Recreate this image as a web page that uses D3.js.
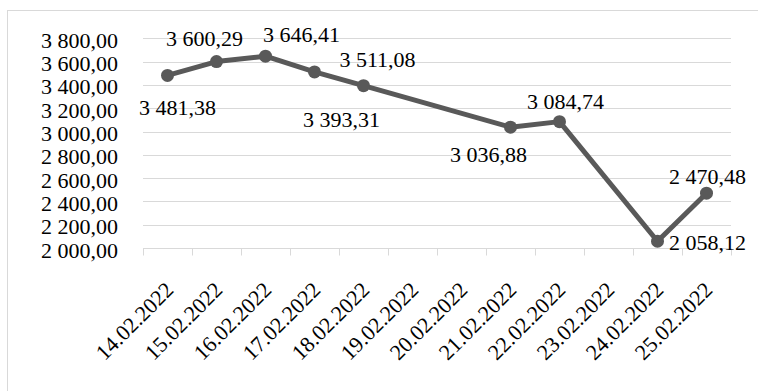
<!DOCTYPE html>
<html>
<head>
<meta charset="utf-8">
<script src="https://cdn.jsdelivr.net/npm/d3@7"></script>
<style>
  html, body { margin: 0; padding: 0; background: #fff; }
  svg { display: block; }
</style>
</head>
<body>
<svg id="chart" width="758" height="391"></svg>
<script>
// Trading dates (category axis)
const dates = ["14.02.2022", "15.02.2022", "16.02.2022", "17.02.2022", "18.02.2022", "19.02.2022",
               "20.02.2022", "21.02.2022", "22.02.2022", "23.02.2022", "24.02.2022", "25.02.2022"];
// Closing values; null = no trading that day
const values = [3481.38, 3600.29, 3646.41, 3511.08, 3393.31, null,
                null, 3036.88, 3084.74, null, 2058.12, 2470.48];
// Value axis ticks
const yTicks = [2000, 2200, 2400, 2600, 2800, 3000, 3200, 3400, 3600, 3800];

// Data label placement relative to each point (dx, dy)
const labelOffsets = [[10, 32], [-12, -23], [36, -22], [63, -12], [-22, 34], null,
                      null, [-22, 27], [6, -20], null, [50, 1], [1, -17]];

const svg = d3.select("#chart");
const plot = { left: 143, right: 731, top: 38.3, bottom: 248 };
const serif = '"Liberation Serif"';
const fontSize = "22px";

const ru = d3.formatLocale({ decimal: ",", thousands: " ", grouping: [3] });
const fmt = ru.format(",.2f");

const x = d3.scaleBand().domain(dates).range([plot.left, plot.right]).padding(0);
const y = d3.scaleLinear().domain([2000, 3800]).range([plot.bottom, plot.top]);
const cx = d => x(d) + x.bandwidth() / 2;

// Chart frame
svg.append("rect")
  .attr("x", 7.5).attr("y", 10.5).attr("width", 800).attr("height", 500)
  .attr("fill", "none").attr("stroke", "#d9d9d9").attr("stroke-width", 1);

// Gridlines
svg.append("g").selectAll("line").data(yTicks.filter(t => t !== 2000)).join("line")
  .attr("x1", plot.left).attr("x2", plot.right)
  .attr("y1", d => Math.round(y(d)) + 0.5).attr("y2", d => Math.round(y(d)) + 0.5)
  .attr("stroke", "#d9d9d9").attr("stroke-width", 1);

// Value axis labels
svg.append("g").selectAll("text").data(yTicks).join("text")
  .attr("x", 118).attr("y", d => y(d) + 2)
  .attr("text-anchor", "end").attr("dominant-baseline", "central")
  .style("font-family", serif).style("font-size", fontSize).attr("fill", "#000")
  .text(d => fmt(d));

// Category axis line with tick marks between categories
const xAxis = d3.axisBottom(x).tickSize(0).tickFormat("");
const gx = svg.append("g").attr("transform", `translate(0,${Math.round(plot.bottom) + 0.5})`).call(xAxis);
gx.select(".domain").attr("stroke", "#d9d9d9").attr("d", `M${plot.left},0H${plot.right}`);
gx.selectAll(".tick").remove();
gx.selectAll("line.sep").data(d3.range(dates.length + 1)).join("line")
  .attr("class", "sep")
  .attr("x1", i => Math.round(plot.left + i * x.step()) + 0.5)
  .attr("x2", i => Math.round(plot.left + i * x.step()) + 0.5)
  .attr("y1", 0).attr("y2", 7)
  .attr("stroke", "#d9d9d9");

// Rotated category labels
svg.append("g").selectAll("text").data(dates).join("text")
  .attr("transform", d => `translate(${cx(d) + 2},${286}) rotate(-45)`)
  .attr("text-anchor", "end").attr("dominant-baseline", "central")
  .style("font-family", serif).style("font-size", fontSize).attr("fill", "#000")
  .text(d => d);

// Series line (gaps bridged between trading days)
const pts = dates.map((d, i) => ({ d, v: values[i], off: labelOffsets[i] })).filter(p => p.v !== null);
const line = d3.line().x(p => cx(p.d)).y(p => y(p.v));
svg.append("path").datum(pts)
  .attr("d", line)
  .attr("fill", "none").attr("stroke", "#595959").attr("stroke-width", 5)
  .attr("stroke-linejoin", "round");

svg.append("g").selectAll("circle").data(pts).join("circle")
  .attr("cx", p => cx(p.d)).attr("cy", p => y(p.v)).attr("r", 6.5)
  .attr("fill", "#595959");

// Data labels
svg.append("g").selectAll("text").data(pts).join("text")
  .attr("x", p => cx(p.d) + p.off[0]).attr("y", p => y(p.v) + p.off[1])
  .attr("text-anchor", "middle").attr("dominant-baseline", "central")
  .style("font-family", serif).style("font-size", fontSize).attr("fill", "#000")
  .text(p => fmt(p.v));
</script>
</body>
</html>
